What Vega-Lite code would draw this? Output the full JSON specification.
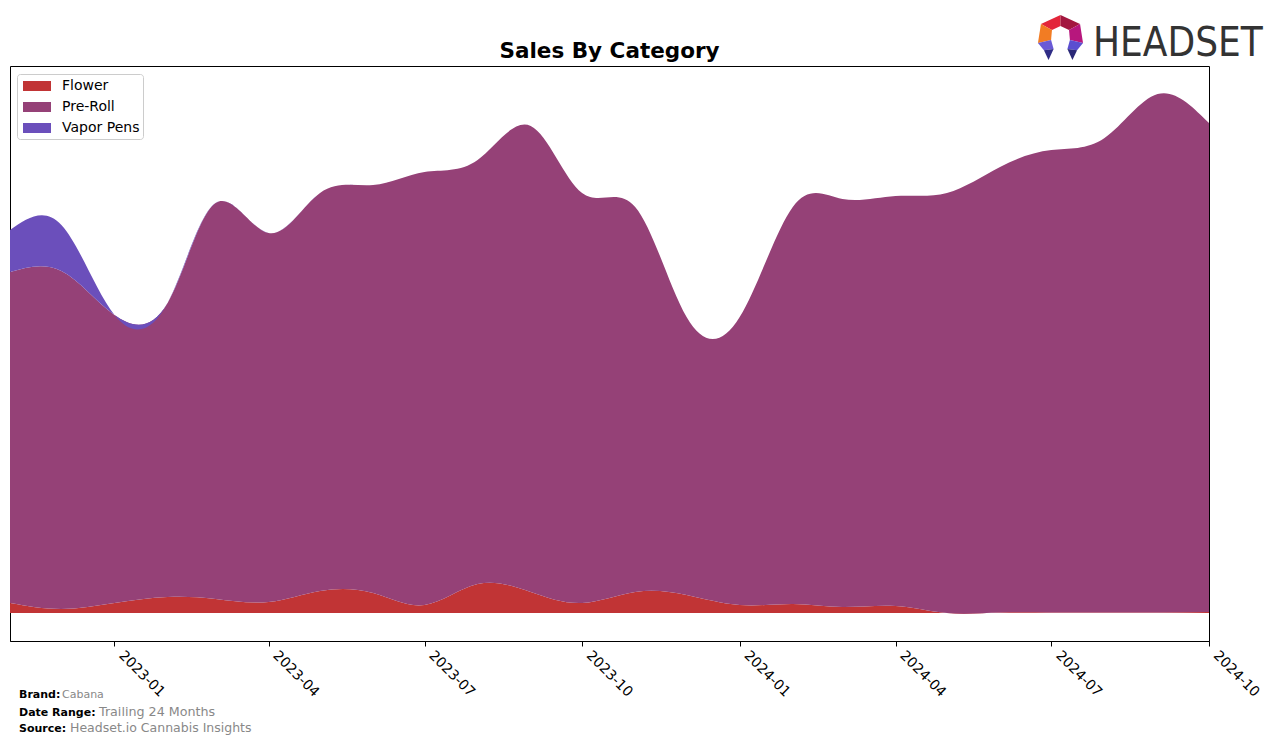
{
  "$schema": "https://vega.github.io/schema/vega-lite/v6.json",
  "width": 1199,
  "height": 575,
  "autosize": {"type": "none"},
  "padding": {"left": 10, "top": 66, "right": 67, "bottom": 104},
  "background": "white",
  "config": {"view": {"stroke": "black", "strokeWidth": 1}, "font": "DejaVu Sans"},
  "layer": [
    {
      "data": {"values": [
        {"date": "2022-11-01", "category": "Flower", "sales": 10},
        {"date": "2022-12-01", "category": "Flower", "sales": 4},
        {"date": "2023-01-01", "category": "Flower", "sales": 10},
        {"date": "2023-02-01", "category": "Flower", "sales": 16},
        {"date": "2023-03-01", "category": "Flower", "sales": 14},
        {"date": "2023-04-01", "category": "Flower", "sales": 11},
        {"date": "2023-05-01", "category": "Flower", "sales": 22},
        {"date": "2023-06-01", "category": "Flower", "sales": 20},
        {"date": "2023-07-01", "category": "Flower", "sales": 8},
        {"date": "2023-08-01", "category": "Flower", "sales": 29},
        {"date": "2023-09-01", "category": "Flower", "sales": 21},
        {"date": "2023-10-01", "category": "Flower", "sales": 10},
        {"date": "2023-11-01", "category": "Flower", "sales": 21},
        {"date": "2023-12-01", "category": "Flower", "sales": 18},
        {"date": "2024-01-01", "category": "Flower", "sales": 8},
        {"date": "2024-02-01", "category": "Flower", "sales": 9},
        {"date": "2024-03-01", "category": "Flower", "sales": 6},
        {"date": "2024-04-01", "category": "Flower", "sales": 7},
        {"date": "2024-05-01", "category": "Flower", "sales": 0},
        {"date": "2024-06-01", "category": "Flower", "sales": 0.5},
        {"date": "2024-07-01", "category": "Flower", "sales": 0.5},
        {"date": "2024-08-01", "category": "Flower", "sales": 0.5},
        {"date": "2024-09-01", "category": "Flower", "sales": 0.5},
        {"date": "2024-10-01", "category": "Flower", "sales": 1},
        {"date": "2022-11-01", "category": "Pre-Roll", "sales": 331},
        {"date": "2022-12-01", "category": "Pre-Roll", "sales": 338},
        {"date": "2023-01-01", "category": "Pre-Roll", "sales": 288},
        {"date": "2023-02-01", "category": "Pre-Roll", "sales": 294},
        {"date": "2023-03-01", "category": "Pre-Roll", "sales": 396},
        {"date": "2023-04-01", "category": "Pre-Roll", "sales": 369},
        {"date": "2023-05-01", "category": "Pre-Roll", "sales": 398},
        {"date": "2023-06-01", "category": "Pre-Roll", "sales": 408},
        {"date": "2023-07-01", "category": "Pre-Roll", "sales": 433},
        {"date": "2023-08-01", "category": "Pre-Roll", "sales": 424},
        {"date": "2023-09-01", "category": "Pre-Roll", "sales": 466},
        {"date": "2023-10-01", "category": "Pre-Roll", "sales": 410},
        {"date": "2023-11-01", "category": "Pre-Roll", "sales": 385},
        {"date": "2023-12-01", "category": "Pre-Roll", "sales": 278},
        {"date": "2024-01-01", "category": "Pre-Roll", "sales": 288},
        {"date": "2024-02-01", "category": "Pre-Roll", "sales": 397},
        {"date": "2024-03-01", "category": "Pre-Roll", "sales": 408},
        {"date": "2024-04-01", "category": "Pre-Roll", "sales": 410},
        {"date": "2024-05-01", "category": "Pre-Roll", "sales": 420},
        {"date": "2024-06-01", "category": "Pre-Roll", "sales": 445.5},
        {"date": "2024-07-01", "category": "Pre-Roll", "sales": 462.5},
        {"date": "2024-08-01", "category": "Pre-Roll", "sales": 474.5},
        {"date": "2024-09-01", "category": "Pre-Roll", "sales": 518.5},
        {"date": "2024-10-01", "category": "Pre-Roll", "sales": 489},
        {"date": "2022-11-01", "category": "Vapor Pens", "sales": 42},
        {"date": "2022-12-01", "category": "Vapor Pens", "sales": 46},
        {"date": "2023-01-01", "category": "Vapor Pens", "sales": 0},
        {"date": "2023-02-01", "category": "Vapor Pens", "sales": 0},
        {"date": "2023-03-01", "category": "Vapor Pens", "sales": 0},
        {"date": "2023-04-01", "category": "Vapor Pens", "sales": 0},
        {"date": "2023-05-01", "category": "Vapor Pens", "sales": 0},
        {"date": "2023-06-01", "category": "Vapor Pens", "sales": 0},
        {"date": "2023-07-01", "category": "Vapor Pens", "sales": 0},
        {"date": "2023-08-01", "category": "Vapor Pens", "sales": 0},
        {"date": "2023-09-01", "category": "Vapor Pens", "sales": 0},
        {"date": "2023-10-01", "category": "Vapor Pens", "sales": 0},
        {"date": "2023-11-01", "category": "Vapor Pens", "sales": 0},
        {"date": "2023-12-01", "category": "Vapor Pens", "sales": 0},
        {"date": "2024-01-01", "category": "Vapor Pens", "sales": 0},
        {"date": "2024-02-01", "category": "Vapor Pens", "sales": 0},
        {"date": "2024-03-01", "category": "Vapor Pens", "sales": 0},
        {"date": "2024-04-01", "category": "Vapor Pens", "sales": 0},
        {"date": "2024-05-01", "category": "Vapor Pens", "sales": 0},
        {"date": "2024-06-01", "category": "Vapor Pens", "sales": 0},
        {"date": "2024-07-01", "category": "Vapor Pens", "sales": 0},
        {"date": "2024-08-01", "category": "Vapor Pens", "sales": 0},
        {"date": "2024-09-01", "category": "Vapor Pens", "sales": 0},
        {"date": "2024-10-01", "category": "Vapor Pens", "sales": 0}
      ]},
      "mark": {"type": "area", "interpolate": "natural", "clip": true},
      "encoding": {
        "x": {
          "field": "date", "type": "temporal",
          "scale": {"type": "utc", "domain": [{"year": 2022, "month": 11, "date": 1, "utc": true}, {"year": 2024, "month": 10, "date": 1, "utc": true}]},
          "axis": {
            "values": [
              {"year": 2023, "month": 1, "date": 1, "utc": true},
              {"year": 2023, "month": 4, "date": 1, "utc": true},
              {"year": 2023, "month": 7, "date": 1, "utc": true},
              {"year": 2023, "month": 10, "date": 1, "utc": true},
              {"year": 2024, "month": 1, "date": 1, "utc": true},
              {"year": 2024, "month": 4, "date": 1, "utc": true},
              {"year": 2024, "month": 7, "date": 1, "utc": true},
              {"year": 2024, "month": 10, "date": 1, "utc": true}
            ],
            "labelExpr": "utcFormat(datum.value, '%Y-%m')",
            "labelAngle": 45, "labelAlign": "left", "labelBaseline": "top",
            "labelFontSize": 14, "labelFont": "DejaVu Sans", "labelColor": "black",
            "labelPadding": 2, "labelOffset": 11, "labelOverlap": false, "labelBound": false, "labelFlush": false,
            "tickColor": "black", "tickSize": 5, "domainColor": "black", "grid": false, "title": null
          }
        },
        "y": {"field": "sales", "type": "quantitative", "stack": "zero", "scale": {"domain": [-28, 547], "nice": false, "zero": false}, "axis": null},
        "color": {
          "field": "category", "type": "nominal",
          "scale": {"domain": ["Flower", "Pre-Roll", "Vapor Pens"], "range": ["#c13435", "#954177", "#6b4fbb"]},
          "legend": {
            "orient": "none", "legendX": 7, "legendY": 8, "title": null,
            "symbolType": "M-0.706,-0.588L2.588,-0.588L2.588,0.588L-0.706,0.588Z",
            "symbolSize": 289, "symbolStrokeWidth": 0, "symbolOpacity": 1,
            "labelFontSize": 14, "labelFont": "DejaVu Sans", "labelColor": "black",
            "padding": 3.5, "rowPadding": 5, "labelOffset": 24.5,
            "strokeColor": "#cccccc", "fillColor": "white", "cornerRadius": 3
          }
        },
        "order": {"field": "category", "sort": "ascending"}
      }
    },
    {"data": {"values": [{}]}, "mark": {"type": "text", "text": "Sales By Category", "x": 599.5, "y": -8, "align": "center", "baseline": "alphabetic", "fontSize": 21.5, "fontWeight": "bold", "font": "DejaVu Sans", "color": "black"}},
    {"data": {"values": [{}]}, "mark": {"type": "text", "text": "Brand:", "x": 9, "y": 632, "align": "left", "baseline": "alphabetic", "fontSize": 11, "fontWeight": "bold", "font": "DejaVu Sans", "color": "black"}},
    {"data": {"values": [{}]}, "mark": {"type": "text", "text": "Cabana", "x": 52, "y": 632, "align": "left", "baseline": "alphabetic", "fontSize": 11, "font": "DejaVu Sans", "color": "#888888"}},
    {"data": {"values": [{}]}, "mark": {"type": "text", "text": "Date Range:", "x": 9, "y": 650, "align": "left", "baseline": "alphabetic", "fontSize": 11, "fontWeight": "bold", "font": "DejaVu Sans", "color": "black"}},
    {"data": {"values": [{}]}, "mark": {"type": "text", "text": "Trailing 24 Months", "x": 89, "y": 650, "align": "left", "baseline": "alphabetic", "fontSize": 12.7, "font": "DejaVu Sans", "color": "#888888"}},
    {"data": {"values": [{}]}, "mark": {"type": "text", "text": "Source:", "x": 9, "y": 666, "align": "left", "baseline": "alphabetic", "fontSize": 11, "fontWeight": "bold", "font": "DejaVu Sans", "color": "black"}},
    {"data": {"values": [{}]}, "mark": {"type": "text", "text": "Headset.io Cannabis Insights", "x": 60, "y": 666, "align": "left", "baseline": "alphabetic", "fontSize": 12.5, "font": "DejaVu Sans", "color": "#888888"}},
    {"data": {"values": [{}]}, "mark": {"type": "text", "text": "HEADSET", "x": 1083, "y": -10, "align": "left", "baseline": "alphabetic", "fontSize": 40, "font": "DejaVu Sans Condensed, Liberation Sans Narrow, Roboto", "color": "#333333"}},
    {"data": {"values": [{}]}, "mark": {"type": "point", "shape": "M0,-0.98L0,-0.5L-0.37,-0.33L-0.85,-0.59Z", "size": 2116, "filled": true, "fill": "#e3263a", "opacity": 1, "strokeWidth": 0, "x": 1050.5, "y": -28.5}},
    {"data": {"values": [{}]}, "mark": {"type": "point", "shape": "M0,-0.98L0.85,-0.59L0.37,-0.33L0,-0.5Z", "size": 2116, "filled": true, "fill": "#a3173f", "opacity": 1, "strokeWidth": 0, "x": 1050.5, "y": -28.5}},
    {"data": {"values": [{}]}, "mark": {"type": "point", "shape": "M-0.85,-0.59L-0.37,-0.33L-0.41,0.11L-0.98,0.24Z", "size": 2116, "filled": true, "fill": "#f27c23", "opacity": 1, "strokeWidth": 0, "x": 1050.5, "y": -28.5}},
    {"data": {"values": [{}]}, "mark": {"type": "point", "shape": "M0.85,-0.59L0.98,0.24L0.41,0.11L0.37,-0.33Z", "size": 2116, "filled": true, "fill": "#b7177d", "opacity": 1, "strokeWidth": 0, "x": 1050.5, "y": -28.5}},
    {"data": {"values": [{}]}, "mark": {"type": "point", "shape": "M-0.98,0.24L-0.41,0.11L-0.3,0.5L-0.72,0.55Z", "size": 2116, "filled": true, "fill": "#6a5ad6", "opacity": 1, "strokeWidth": 0, "x": 1050.5, "y": -28.5}},
    {"data": {"values": [{}]}, "mark": {"type": "point", "shape": "M-0.72,0.55L-0.3,0.5L-0.52,0.98Z", "size": 2116, "filled": true, "fill": "#2f2d86", "opacity": 1, "strokeWidth": 0, "x": 1050.5, "y": -28.5}},
    {"data": {"values": [{}]}, "mark": {"type": "point", "shape": "M0.98,0.24L0.41,0.11L0.3,0.5L0.72,0.55Z", "size": 2116, "filled": true, "fill": "#5b4fd0", "opacity": 1, "strokeWidth": 0, "x": 1050.5, "y": -28.5}},
    {"data": {"values": [{}]}, "mark": {"type": "point", "shape": "M0.72,0.55L0.3,0.5L0.52,0.98Z", "size": 2116, "filled": true, "fill": "#2a2877", "opacity": 1, "strokeWidth": 0, "x": 1050.5, "y": -28.5}}
  ]
}
